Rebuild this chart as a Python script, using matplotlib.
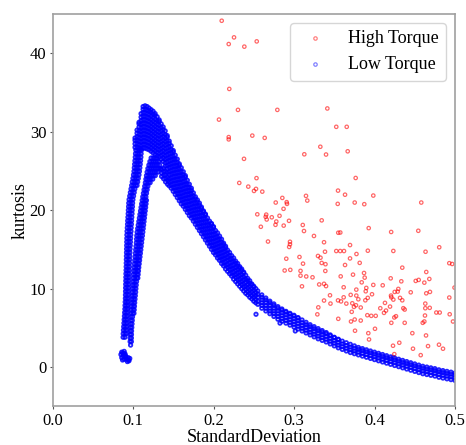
import matplotlib
matplotlib.use("Agg")
import matplotlib.pyplot as plt

plt.rcParams['font.family'] = ['Liberation Serif', 'DejaVu Serif']

# ---------------- High Torque (red) ----------------
high_x = [0.2102,0.2255,0.2189,0.2383,0.2537,0.2196,0.2304,0.2793,0.3414,0.2068,
          0.2189,0.2189,0.2482,0.2636,0.3525,0.3655,0.2379,0.3327,0.3128,0.3398,
          0.3667,0.2534,0.3766,0.2320,0.2432,0.2528,0.2503,0.2606,0.3547,0.3634,
          0.3985,0.3149,0.3165,0.2773,0.2855,0.2909,0.2913,0.2870,0.3543,0.3754,
          0.3873,0.4581,0.2544,0.2655,0.2648,0.2724,0.2820,0.2661,0.2780,0.2938,
          0.3344,0.2588,0.2770,0.2872,0.3109,0.3124,0.3248,0.2677,0.2950,0.2950,
          0.2940,0.3373,0.3385,0.2904,0.3068,0.3298,0.3329,0.3928,0.3550,0.3575,
          0.4207,0.4544,0.3525,0.3574,0.3621,0.3696,0.3776,0.3917,0.4234,0.4634,
          0.4804,0.3696,0.3816,0.4929,0.4965,0.3634,0.4345,0.3870,0.3733,0.4643,
          0.3580,0.3878,0.4201,0.3841,0.4333,0.4512,0.4549,0.4619,0.4681,0.3985,
          0.4102,0.3617,0.3774,0.3898,0.4296,0.4251,0.4288,0.3891,0.4450,0.4643,
          0.4689,0.4994,0.3447,0.3704,0.3774,0.3969,0.3617,0.3547,0.3584,0.3650,
          0.3799,0.3886,0.3916,0.4205,0.4234,0.4317,0.4345,0.4209,0.3453,0.3724,
          0.4130,0.4358,0.4375,0.4929,0.4631,0.4686,0.4631,0.3745,0.3770,0.3829,
          0.4072,0.4193,0.4143,0.4118,0.3717,0.3911,0.3960,0.4015,0.4246,0.4267,
          0.3550,0.3754,0.3829,0.3708,0.4209,0.4375,0.4599,0.4619,0.4627,0.4768,
          0.4810,0.4934,0.4975,0.4006,0.3758,0.3923,0.4470,0.4640,0.3932,0.3112,
          0.3344,0.3391,0.2884,0.2954,0.3081,0.3081,0.3152,0.3230,0.3389,0.3099,
          0.3313,0.3373,0.3398,0.3373,0.3302,0.3290,0.4230,0.4230,0.4246,0.4308,
          0.4478,0.4574,0.4665,0.4801,0.4851]
high_y = [44.14,42.02,41.17,40.84,41.51,35.45,32.78,32.78,32.96,31.54,
          29.31,29.02,29.50,29.21,30.62,30.62,26.54,28.08,27.12,27.09,
          27.50,24.08,24.10,23.47,23.00,22.71,22.45,22.36,22.49,21.97,
          21.86,21.82,21.22,20.97,21.56,21.02,20.80,20.17,20.80,20.97,
          20.76,20.97,19.47,19.43,19.15,19.09,19.28,18.81,18.55,18.64,
          18.70,17.88,18.13,18.03,18.11,17.34,16.71,16.00,15.97,15.65,
          15.31,15.91,14.70,13.81,14.03,14.16,13.94,17.71,17.12,17.15,
          17.22,17.37,14.79,14.79,14.79,15.55,14.41,14.83,14.80,14.70,
          15.27,13.85,13.28,13.24,13.14,13.01,12.67,11.99,11.78,12.12,
          11.56,11.40,11.31,10.80,10.93,10.98,11.11,10.76,11.23,10.47,
          10.42,10.17,9.87,10.09,9.96,9.58,9.62,9.66,9.53,9.40,
          9.58,10.13,9.15,9.20,9.11,9.28,8.89,8.50,8.37,8.09,
          8.64,8.51,8.82,9.11,8.60,8.82,8.51,8.89,8.09,8.13,
          8.18,7.50,7.33,8.86,8.09,7.55,7.50,7.67,7.88,7.59,
          7.50,7.71,7.20,6.91,7.04,6.61,6.53,6.53,6.32,6.48,
          6.15,6.06,5.93,5.81,5.64,5.64,5.64,5.81,6.57,6.95,
          6.95,6.73,5.81,4.88,4.63,4.32,4.32,4.03,3.52,13.18,
          13.27,13.11,12.31,12.39,12.26,11.65,11.55,11.44,12.25,10.29,
          10.53,10.61,10.32,8.48,7.61,6.72,2.72,1.27,1.65,3.10,
          2.34,1.52,2.67,2.85,2.34]

# ---------------- Low Torque (blue) ----------------
low_cluster_x = [0.085,0.086,0.087,0.088,0.089,0.090,0.091,0.087,0.092,0.094,
                 0.095,0.096,0.093,0.089,0.086,0.0885,0.0905,0.0945]
low_cluster_y = [1.6,1.2,1.8,1.4,1.0,1.7,1.3,0.9,1.0,1.2,0.8,1.1,0.7,2.0,1.9,1.7,1.5,0.9]

# left rising strand: kurtosis -> standard deviations
low_left_strand = {
    3.80: [0.0877, 0.0900], 4.25: [0.0878, 0.0900, 0.0918], 4.70: [0.0881, 0.0902, 0.0920],
    5.15: [0.0884, 0.0904, 0.0922], 5.60: [0.0887, 0.0906, 0.0924], 6.05: [0.0890, 0.0908, 0.0926],
    6.50: [0.0893, 0.0911, 0.0928], 6.95: [0.0896, 0.0913, 0.0930], 7.40: [0.0899, 0.0916, 0.0933],
    7.85: [0.0901, 0.0918, 0.0935], 8.30: [0.0903, 0.0920, 0.0937], 8.75: [0.0905, 0.0922, 0.0939],
    9.20: [0.0906, 0.0924, 0.0942], 9.65: [0.0907, 0.0925, 0.0943], 10.10: [0.0908, 0.0926, 0.0945],
    10.55: [0.0909, 0.0928, 0.0947], 11.00: [0.0910, 0.0929, 0.0948], 11.45: [0.0911, 0.0930, 0.0950],
    11.90: [0.0912, 0.0932, 0.0951], 12.35: [0.0914, 0.0933, 0.0953], 12.80: [0.0915, 0.0935, 0.0955],
    13.25: [0.0916, 0.0936, 0.0956], 13.70: [0.0917, 0.0938, 0.0958], 14.15: [0.0918, 0.0939, 0.0960],
    14.60: [0.0919, 0.0941, 0.0962], 15.05: [0.0920, 0.0942, 0.0964], 15.50: [0.0921, 0.0944, 0.0966],
    15.95: [0.0922, 0.0946, 0.0968], 16.40: [0.0923, 0.0947, 0.0970], 16.85: [0.0924, 0.0949, 0.0972],
    17.30: [0.0926, 0.0951, 0.0975], 17.75: [0.0929, 0.0953, 0.0977], 18.20: [0.0932, 0.0956, 0.0980],
    18.65: [0.0934, 0.0958, 0.0982], 19.10: [0.0937, 0.0961, 0.0985], 19.55: [0.0940, 0.0964, 0.0988],
    20.00: [0.0942, 0.0966, 0.0990], 20.45: [0.0945, 0.0969, 0.0993], 20.90: [0.0947, 0.0971, 0.0995],
    21.35: [0.0951, 0.0975, 0.0999], 21.80: [0.0959, 0.0983, 0.1007], 22.25: [0.0967, 0.0991, 0.1015],
    22.70: [0.0975, 0.0999, 0.1023], 23.15: [0.0983, 0.1007, 0.1031, 0.1050],
    23.60: [0.0991, 0.1015, 0.1039, 0.1058], 24.05: [0.0999, 0.1022, 0.1045, 0.1066],
    24.50: [0.1006, 0.1029, 0.1052, 0.1074], 24.95: [0.1012, 0.1035, 0.1058, 0.1080],
    25.40: [0.1016, 0.1039, 0.1062, 0.1085], 25.85: [0.1020, 0.1043, 0.1066, 0.1090],
    26.30: [0.1024, 0.1047, 0.1070, 0.1094], 26.75: [0.1028, 0.1051, 0.1074, 0.1098],
    27.20: [0.1031, 0.1054, 0.1077, 0.1101], 27.65: [0.1035, 0.1058, 0.1081, 0.1105],
}

# right rising strand and inner arch
low_right_strand = {
    2.80: [0.0970], 3.25: [0.0964, 0.0980], 3.70: [0.0964, 0.0980], 4.15: [0.0965, 0.0981],
    4.60: [0.0966, 0.0982], 5.05: [0.0968, 0.0985], 5.50: [0.0970, 0.0988], 5.95: [0.0972, 0.0991],
    6.40: [0.0974, 0.0994], 6.85: [0.0976, 0.0997, 0.1012], 7.30: [0.0978, 0.1000, 0.1015],
    7.75: [0.0980, 0.1002, 0.1018], 8.20: [0.0983, 0.1004, 0.1021], 8.65: [0.0985, 0.1006, 0.1025],
    9.10: [0.0988, 0.1009, 0.1029], 9.55: [0.0991, 0.1012, 0.1033], 10.00: [0.0994, 0.1015, 0.1036],
    10.45: [0.0997, 0.1018, 0.1040], 10.90: [0.1000, 0.1022, 0.1044],
    11.35: [0.1003, 0.1025, 0.1048, 0.1060], 11.80: [0.1006, 0.1028, 0.1051, 0.1064],
    12.25: [0.1009, 0.1031, 0.1054, 0.1068], 12.70: [0.1013, 0.1035, 0.1057, 0.1072],
    13.15: [0.1017, 0.1039, 0.1061, 0.1077], 13.60: [0.1021, 0.1043, 0.1065, 0.1082],
    14.05: [0.1025, 0.1047, 0.1069, 0.1087], 14.50: [0.1029, 0.1051, 0.1073, 0.1092],
    14.95: [0.1033, 0.1055, 0.1077, 0.1097], 15.40: [0.1037, 0.1059, 0.1081, 0.1102],
    15.85: [0.1041, 0.1063, 0.1085, 0.1107], 16.30: [0.1044, 0.1067, 0.1090, 0.1112],
    16.75: [0.1047, 0.1070, 0.1094, 0.1117], 17.20: [0.1051, 0.1074, 0.1098, 0.1122],
    17.65: [0.1058, 0.1081, 0.1104, 0.1127], 18.10: [0.1065, 0.1088, 0.1111, 0.1132],
    18.55: [0.1072, 0.1095, 0.1117, 0.1137], 19.00: [0.1079, 0.1101, 0.1123, 0.1142],
    19.45: [0.1086, 0.1107, 0.1128, 0.1147], 19.90: [0.1093, 0.1114, 0.1134, 0.1152],
    20.35: [0.1100, 0.1121, 0.1140, 0.1157], 20.80: [0.1107, 0.1127, 0.1146, 0.1162],
    21.25: [0.1114, 0.1134, 0.1152, 0.1167], 21.70: [0.1121, 0.1141, 0.1160],
    22.15: [0.1129, 0.1149, 0.1168], 22.60: [0.1137, 0.1157, 0.1176], 23.05: [0.1145, 0.1165, 0.1185],
    23.50: [0.1153, 0.1173, 0.1193, 0.1213],
    23.95: [0.1160, 0.1180, 0.1200, 0.1222, 0.1245],
    24.40: [0.1167, 0.1188, 0.1209, 0.1231, 0.1254, 0.1277],
    24.85: [0.1175, 0.1197, 0.1219, 0.1241, 0.1264, 0.1287, 0.1310],
    25.30: [0.1185, 0.1207, 0.1229, 0.1251, 0.1274, 0.1297, 0.1320, 0.1343],
    25.75: [0.1197, 0.1219, 0.1241, 0.1263, 0.1286, 0.1309, 0.1332],
    26.20: [0.1210, 0.1232, 0.1254, 0.1277, 0.1300, 0.1323],
    26.65: [0.1225, 0.1248, 0.1271, 0.1294],
}

# outer arch, inner-arch tail and the descending band: standard deviation -> kurtosis values
low_columns = {
    0.1025: [28.0, 28.45, 28.9, 29.2],
    0.1050: [28.0, 28.45, 28.9, 29.35, 29.8, 30.2],
    0.1075: [27.9, 28.35, 28.8, 29.25, 29.7, 30.15, 30.6, 31.0, 31.2],
    0.1100: [27.8, 28.25, 28.7, 29.15, 29.6, 30.05, 30.5, 30.95, 31.4, 31.85, 32.3],
    0.1125: [27.9, 28.35, 28.8, 29.25, 29.7, 30.15, 30.6, 31.05, 31.5, 31.95, 32.4, 32.85, 33.2],
    0.1150: [27.9, 28.35, 28.8, 29.25, 29.7, 30.15, 30.6, 31.05, 31.5, 31.95, 32.4, 32.85, 33.3],
    0.1175: [27.8, 28.25, 28.7, 29.15, 29.6, 30.05, 30.5, 30.95, 31.4, 31.85, 32.3, 32.75, 33.2],
    0.1200: [27.7, 28.15, 28.6, 29.05, 29.5, 29.95, 30.4, 30.85, 31.3, 31.75, 32.2, 32.65, 33.0],
    0.1225: [27.5, 27.95, 28.4, 28.85, 29.3, 29.75, 30.2, 30.65, 31.1, 31.55, 32.0, 32.45, 32.8],
    0.1250: [27.3, 27.75, 28.2, 28.65, 29.1, 29.55, 30.0, 30.45, 30.9, 31.35, 31.8, 32.25, 32.6],
    0.1275: [27.1, 27.55, 28.0, 28.45, 28.9, 29.35, 29.8, 30.25, 30.7, 31.15, 31.6, 32.05, 32.3],
    0.1300: [26.9, 27.35, 27.8, 28.25, 28.7, 29.15, 29.6, 30.05, 30.5, 30.95, 31.4, 31.9],
    0.1325: [26.8, 27.25, 27.7, 28.15, 28.6, 29.05, 29.5, 29.95, 30.4, 30.85, 31.3, 31.5],
    0.1350: [26.5, 26.95, 27.4, 27.85, 28.3, 28.75, 29.2, 29.65, 30.1, 30.55, 31.0],
    0.1355: [24.3, 24.75, 25.2],
    0.1375: [26.2, 26.65, 27.1, 27.55, 28.0, 28.45, 28.9, 29.35, 29.8, 30.25, 30.6],
    0.1380: [24.0, 24.45, 24.9, 25.35],
    0.1400: [25.6, 26.05, 26.5, 26.95, 27.4, 27.85, 28.3, 28.75, 29.2, 29.65, 30.1],
    0.1405: [23.6, 24.05, 24.5, 24.95],
    0.1425: [24.8, 25.25, 25.7, 26.15, 26.6, 27.05, 27.5, 27.95, 28.4, 28.85, 29.3, 29.5],
    0.1430: [23.3, 23.75, 24.2],
    0.1450: [23.1, 23.6, 24.0, 24.5, 24.9, 25.4, 25.8, 26.3, 26.7, 27.2, 27.6, 28.1, 28.5, 28.8],
    0.1475: [22.8, 23.2, 23.7, 24.1, 24.6, 25.0, 25.5, 25.9, 26.4, 26.8, 27.3, 27.7, 28.2],
    0.1500: [22.4, 22.9, 23.3, 23.8, 24.2, 24.7, 25.1, 25.6, 26.0, 26.5, 26.9, 27.4, 27.6],
    0.1525: [22.0, 22.5, 22.9, 23.4, 23.8, 24.3, 24.7, 25.2, 25.6, 26.1, 26.5, 27.0],
    0.1550: [21.6, 22.1, 22.5, 23.0, 23.4, 23.9, 24.3, 24.8, 25.2, 25.7, 26.1, 26.5],
    0.1575: [21.2, 21.7, 22.1, 22.6, 23.0, 23.5, 23.9, 24.4, 24.8, 25.3, 25.7, 25.9],
    0.1600: [20.8, 21.3, 21.7, 22.2, 22.6, 23.1, 23.5, 24.0, 24.4, 24.9, 25.4],
    0.1625: [20.5, 20.9, 21.4, 21.8, 22.3, 22.7, 23.2, 23.6, 24.1, 24.5, 24.9],
    0.1650: [20.1, 20.6, 21.0, 21.5, 21.9, 22.4, 22.8, 23.3, 23.7, 24.2, 24.4],
    0.1675: [19.7, 20.2, 20.6, 21.1, 21.5, 22.0, 22.4, 22.9, 23.3, 23.8],
    0.1700: [19.3, 19.8, 20.2, 20.7, 21.1, 21.6, 22.0, 22.5, 22.9, 23.3],
    0.1725: [19.0, 19.4, 19.9, 20.3, 20.8, 21.2, 21.7, 22.1, 22.5, 22.8],
    0.1750: [18.6, 19.1, 19.5, 20.0, 20.4, 20.9, 21.3, 21.8, 22.2],
    0.1775: [18.2, 18.7, 19.1, 19.6, 20.0, 20.5, 20.9, 21.4, 21.7],
    0.1800: [17.8, 18.3, 18.7, 19.2, 19.6, 20.1, 20.5, 21.0, 21.3],
    0.1825: [17.4, 17.9, 18.3, 18.8, 19.2, 19.7, 20.1, 20.6, 20.9],
    0.1850: [17.0, 17.5, 17.9, 18.4, 18.8, 19.3, 19.7, 20.2, 20.4],
    0.1875: [16.6, 17.1, 17.5, 18.0, 18.4, 18.9, 19.3, 19.8, 19.9],
    0.1900: [16.2, 16.7, 17.1, 17.6, 18.0, 18.5, 18.9, 19.4, 19.5],
    0.1925: [15.8, 16.3, 16.7, 17.2, 17.6, 18.1, 18.5, 19.0],
    0.1950: [15.4, 15.9, 16.3, 16.8, 17.2, 17.7, 18.1, 18.6],
    0.1975: [15.0, 15.5, 15.9, 16.4, 16.8, 17.3, 17.7, 18.2, 18.3],
    0.2000: [14.6, 15.1, 15.5, 16.0, 16.4, 16.9, 17.3, 17.8, 17.9],
    0.2025: [14.3, 14.7, 15.2, 15.6, 16.1, 16.5, 17.0, 17.4],
    0.2050: [13.9, 14.4, 14.8, 15.3, 15.7, 16.2, 16.6, 17.1],
    0.2075: [13.6, 14.0, 14.5, 14.9, 15.4, 15.8, 16.3, 16.7],
    0.2100: [13.2, 13.7, 14.1, 14.6, 15.0, 15.5, 15.9, 16.3],
    0.2125: [12.9, 13.3, 13.8, 14.2, 14.7, 15.1, 15.6, 15.8],
    0.2150: [12.5, 13.0, 13.4, 13.9, 14.3, 14.8, 15.2, 15.4],
    0.2175: [12.2, 12.7, 13.1, 13.6, 14.0, 14.5, 14.9],
    0.2200: [11.9, 12.4, 12.8, 13.3, 13.7, 14.2, 14.6],
    0.2225: [11.6, 12.0, 12.5, 12.9, 13.4, 13.8, 14.2],
    0.2250: [11.2, 11.7, 12.1, 12.6, 13.0, 13.5, 13.9],
    0.2275: [10.9, 11.4, 11.8, 12.3, 12.7, 13.2, 13.5],
    0.2300: [10.6, 11.1, 11.5, 12.0, 12.4, 12.9, 13.2],
    0.2325: [10.3, 10.8, 11.2, 11.7, 12.1, 12.6, 12.8],
    0.2350: [10.0, 10.5, 10.9, 11.4, 11.8, 12.3, 12.5],
    0.2375: [9.7, 10.2, 10.6, 11.1, 11.5, 12.0, 12.1],
    0.2400: [9.4, 9.9, 10.3, 10.8, 11.2, 11.7],
    0.2425: [9.2, 9.6, 10.1, 10.5, 11.0, 11.3],
    0.2450: [8.9, 9.4, 9.8, 10.3, 10.7, 11.0],
    0.2475: [8.7, 9.1, 9.6, 10.0, 10.5, 10.6],
    0.2500: [8.4, 8.9, 9.3, 9.8, 10.2, 10.3],
    0.2525: [8.2, 8.6, 9.1, 9.5, 10.0],
    0.2550: [8.0, 8.4, 8.9, 9.3, 9.7],
    0.260: [7.5, 7.85, 8.2, 8.55, 8.9, 9.2],
    0.265: [7.15, 7.5, 7.85, 8.2, 8.55, 8.8],
    0.270: [6.8, 7.15, 7.5, 7.85, 8.2, 8.4],
    0.275: [6.45, 6.8, 7.15, 7.5, 7.85, 8.05],
    0.280: [6.1, 6.45, 6.8, 7.15, 7.5, 7.7],
    0.285: [5.85, 6.2, 6.55, 6.9, 7.25, 7.4],
    0.290: [5.6, 5.95, 6.3, 6.65, 7.0, 7.1],
    0.295: [5.35, 5.7, 6.05, 6.4, 6.75, 6.85],
    0.300: [5.1, 5.45, 5.8, 6.15, 6.5, 6.6],
    0.305: [4.85, 5.2, 5.55, 5.9, 6.25, 6.3],
    0.310: [4.6, 4.95, 5.3, 5.65, 6.0],
    0.315: [4.35, 4.7, 5.05, 5.4, 5.7],
    0.320: [4.1, 4.45, 4.8, 5.15, 5.4],
    0.325: [3.85, 4.2, 4.55, 4.9, 5.15],
    0.330: [3.6, 3.95, 4.3, 4.65, 4.9],
    0.335: [3.4, 3.75, 4.1, 4.45, 4.65],
    0.340: [3.2, 3.55, 3.9, 4.25, 4.4],
    0.345: [2.95, 3.3, 3.65, 4.0, 4.1],
    0.350: [2.7, 3.05, 3.4, 3.75, 3.8],
    0.355: [2.45, 2.8, 3.15, 3.5, 3.55],
    0.360: [2.25, 2.6, 2.95, 3.3],
    0.365: [2.05, 2.4, 2.75, 3.1],
    0.370: [1.85, 2.2, 2.55, 2.9],
    0.375: [1.7, 2.05, 2.4, 2.7],
    0.380: [1.55, 1.9, 2.25, 2.5],
    0.385: [1.4, 1.75, 2.1, 2.35],
    0.390: [1.25, 1.6, 1.95, 2.2],
    0.395: [1.1, 1.45, 1.8, 2.05],
    0.400: [0.95, 1.3, 1.65, 1.9],
    0.405: [0.8, 1.15, 1.5, 1.75],
    0.410: [0.65, 1.0, 1.35, 1.6],
    0.415: [0.5, 0.85, 1.2, 1.45],
    0.420: [0.35, 0.7, 1.05, 1.3],
    0.425: [0.2, 0.55, 0.9, 1.15],
    0.430: [0.05, 0.4, 0.75, 1.0],
    0.435: [-0.1, 0.25, 0.6, 0.85],
    0.440: [-0.25, 0.1, 0.45, 0.7],
    0.445: [-0.4, -0.05, 0.3, 0.55],
    0.450: [-0.55, -0.2, 0.15, 0.4],
    0.455: [-0.7, -0.35, 0.0, 0.25],
    0.460: [-0.85, -0.5, -0.15, 0.1],
    0.465: [-0.95, -0.6, -0.25, 0.0],
    0.470: [-1.05, -0.7, -0.35, -0.1],
    0.475: [-1.15, -0.8, -0.45, -0.2],
    0.480: [-1.3, -0.95, -0.6, -0.35],
    0.485: [-1.4, -1.05, -0.7, -0.45],
    0.490: [-1.5, -1.15, -0.8, -0.55],
    0.495: [-1.6, -1.25, -0.9, -0.65],
    0.500: [-1.7, -1.35, -1.0, -0.75],
}

# isolated low-torque points below the band
low_outlier_x = [0.2528, 0.2826, 0.3016]
low_outlier_y = [6.73, 5.60, 4.60]

x_ticks = [0.0, 0.1, 0.2, 0.3, 0.4, 0.5]
y_ticks = [0, 10, 20, 30, 40]

# ---- assemble blue series ----
low_x = list(low_cluster_x)
low_y = list(low_cluster_y)
for yv, xs in list(low_left_strand.items()) + list(low_right_strand.items()):
    for xv in xs:
        low_x.append(xv)
        low_y.append(yv)
for xv, ys in low_columns.items():
    for yv in ys:
        low_x.append(xv)
        low_y.append(yv)
low_x += low_outlier_x
low_y += low_outlier_y

fig = plt.figure(figsize=(4.66, 4.45), dpi=100)
ax = fig.add_axes([52.5 / 466, 1 - 406.3 / 445, (455 - 52.5) / 466, (406.3 - 14) / 445])

ax.scatter(high_x, high_y, s=6, facecolors='none', edgecolors='red',
           linewidths=0.9, alpha=0.6, label='High Torque')
ax.scatter(low_x, low_y, s=6, facecolors='none', edgecolors='blue',
           linewidths=1.3, alpha=0.85, label='Low Torque')

ax.set_xlim(0.0, 0.5)
ax.set_ylim(-5, 45)
ax.set_xticks(x_ticks)
ax.set_yticks(y_ticks)
ax.tick_params(labelsize=12, length=2.5, pad=2, color='#555555')
for sp in ax.spines.values():
    sp.set_color('#a0a0a0')
    sp.set_linewidth(1.2)
ax.set_xlabel('StandardDeviation', fontsize=13, labelpad=0)
ax.set_ylabel('kurtosis', fontsize=13, labelpad=1)
leg = ax.legend(loc='upper right', fontsize=13)
for h in leg.legend_handles:
    h.set_alpha(0.5)
    h.set_linewidth(0.9)

fig.savefig('out.png', dpi=100)
